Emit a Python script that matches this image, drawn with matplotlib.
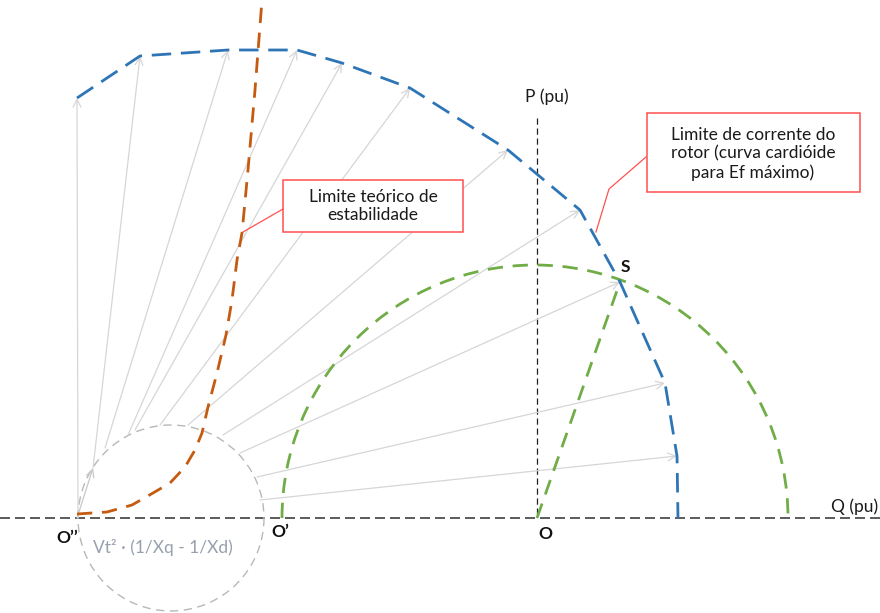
import numpy as np
import matplotlib.pyplot as plt
from matplotlib.patches import Rectangle, Arc

# Diagram drawn in picture units (x to the right, y downward)
# cardioid (rotor current limit) vertices = tips of the gray arrows
card_x = [77, 140, 228, 297, 342, 410, 508, 580, 620, 665, 677, 678]
card_y = [98, 56, 50, 50, 63, 88, 150, 210, 282, 383, 456, 518]
# where each gray arrow starts (on the small reluctance circle)
start_x = [78, 93, 105, 128, 135, 160, 188, 223, 240, 257, 260]
start_y = [518, 468, 448, 435, 430, 425, 425, 435, 453, 477, 500]

# stability limit curve
stab_x = [77, 107, 132, 153, 170, 185, 195, 202, 208, 217, 226, 232, 237, 242, 248, 255, 262]
stab_y = [514, 512, 505, 493, 483, 467, 450, 433, 407, 373, 335, 300, 260, 233, 170, 90, 0]

# origins and circles
O2 = (77, 518)      # O''
O1 = (283, 518)     # O'
O = (537, 518)
S = (620, 282)
small_c = (171, 518)
small_r = 93
big_c = (535, 518)
big_r = 253

blue = '#2e75b6'
orange = '#c55a11'
green = '#70ad47'
red = '#ff5050'
arrow_gray = '#d6d6d6'

plt.rcParams['font.family'] = ['Lato', 'DejaVu Sans']

fig = plt.figure(figsize=(8.8, 6.13), dpi=100)
ax = fig.add_axes([0, 0, 1, 1])
ax.set_xlim(0, 880)
ax.set_ylim(613, 0)
ax.axis('off')

# axes of the diagram
ax.plot([0, 880], [O[1], O[1]], color='#404040', lw=1.2, dashes=(6, 3), zorder=1)
ax.plot([O[0], O[0]], [118, O[1]], color='#202020', lw=0.9, dashes=(5, 3), zorder=1)

# small reluctance circle
ax.add_patch(Arc(small_c, 2 * small_r, 2 * small_r, theta1=0, theta2=360,
                 color='#b8b8b8', lw=1.0, ls=(0, (6, 4)), zorder=2))

# gray arrows from the small circle to the cardioid
for i in range(len(start_x)):
    ax.annotate('', xy=(card_x[i], card_y[i]), xytext=(start_x[i], start_y[i]),
                arrowprops=dict(arrowstyle='->', color=arrow_gray, lw=0.9,
                                mutation_scale=14, shrinkA=0, shrinkB=0), zorder=2)
# short arrow O'' -> first circle point
ax.annotate('', xy=(start_x[1], start_y[1]), xytext=O2,
            arrowprops=dict(arrowstyle='->', color='#c8c8c8', lw=0.9,
                            mutation_scale=14, shrinkA=0, shrinkB=0), zorder=2)

# green semicircle and O -> S
ax.add_patch(Arc(big_c, 2 * big_r, 2 * big_r, theta1=180, theta2=360,
                 color=green, lw=2.0, ls=(0, (5.5, 3.5)), zorder=3))
ax.plot([O[0], S[0]], [O[1], S[1]], color=green, lw=2.0, dashes=(5.5, 3.5), zorder=3)

# stability limit
ax.plot(stab_x, stab_y, color=orange, lw=2.0, dashes=(5.5, 3.5), zorder=4)

# rotor current limit
ax.plot(card_x, card_y, color=blue, lw=2.0, dashes=(7, 3.5), zorder=4)

# callouts
ax.add_patch(Rectangle((283, 180), 180, 52, facecolor='white', edgecolor=red, lw=1.1, zorder=5))
ax.text(373, 206, 'Limite teórico de\nestabilidade', ha='center', va='center',
        fontsize=12.5, color='#1a1a1a', linespacing=1.2, zorder=6)
ax.plot([283, 243], [209, 232], color=red, lw=0.9, zorder=5)

ax.add_patch(Rectangle((647, 113), 213, 79, facecolor='white', edgecolor=red, lw=1.1, zorder=5))
ax.text(753, 154, 'Limite de corrente do\nrotor (curva cardióide\npara Ef máximo)',
        ha='center', va='center', fontsize=12.5, color='#1a1a1a', linespacing=1.2, zorder=6)
ax.plot([646, 609, 596], [157, 189, 232], color=red, lw=0.9, zorder=5)

# labels
ax.text(547, 97, 'P (pu)', ha='center', va='center', fontsize=12.5, color='#1a1a1a')
ax.text(855, 507, 'Q (pu)', ha='center', va='center', fontsize=12.5, color='#1a1a1a')
ax.text(67, 538, 'O’’', ha='center', va='center', fontsize=12.5, fontweight='bold', color='#111111')
ax.text(280, 532, 'O’', ha='center', va='center', fontsize=12.5, fontweight='bold', color='#111111')
ax.text(545, 534, 'O', ha='center', va='center', fontsize=12.5, fontweight='bold', color='#111111')
ax.text(625, 267, 'S', ha='center', va='center', fontsize=12.5, fontweight='bold', color='#111111')
ax.text(163, 547, 'Vt² · (1/Xq - 1/Xd)', ha='center', va='center', fontsize=12.5, color='#97a0ad')

fig.savefig('out.png', dpi=100)
